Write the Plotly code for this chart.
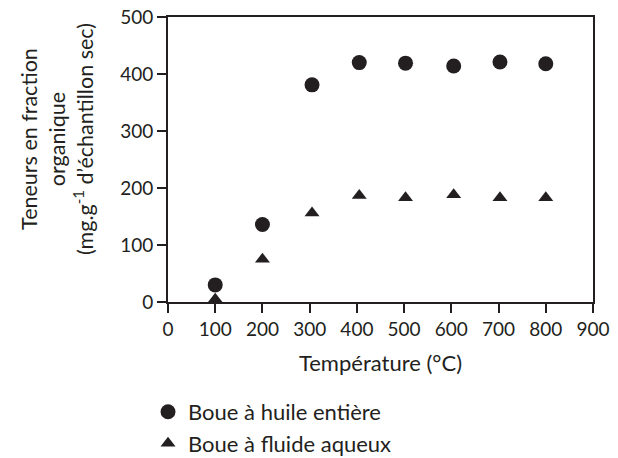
import plotly.graph_objects as go

temperature = [100, 200, 305, 405, 503, 605, 703, 800]
boue_huile = [30, 136, 381, 420, 419, 414, 421, 418]
boue_fluide = [5, 75, 156, 187, 183, 188, 183, 183]
x_ticks = [0, 100, 200, 300, 400, 500, 600, 700, 800, 900]
y_ticks = [0, 100, 200, 300, 400, 500]

INK = "#231f20"
FONT = "Lato"

fig = go.Figure()
fig.add_trace(go.Scatter(
    x=temperature, y=boue_huile, mode="markers", name="Boue à huile entière",
    marker=dict(symbol="circle", size=15, color=INK),
))
fig.add_trace(go.Scatter(
    x=temperature, y=boue_fluide, mode="markers", name="Boue à fluide aqueux",
    marker=dict(symbol="triangle-up", size=13, color=INK),
))

axis_common = dict(
    showline=True, linecolor=INK, linewidth=2, mirror=True,
    ticks="outside", ticklen=9, tickwidth=1.5, tickcolor=INK,
    showgrid=False, zeroline=False, automargin=False,
    tickfont=dict(family=FONT, size=19, color=INK),
)

fig.update_layout(
    width=618, height=458,
    margin=dict(l=168, r=25, t=17, b=156, autoexpand=False),
    paper_bgcolor="white", plot_bgcolor="white",
    font=dict(family=FONT, color=INK, size=19),
    xaxis=dict(range=[0, 900], tickvals=x_ticks, **axis_common,
               title=dict(text="Température (°C)", standoff=17,
                          font=dict(family=FONT, size=22, color=INK))),
    yaxis=dict(range=[0, 500], tickvals=y_ticks, **axis_common),
    legend=dict(x=-0.047, y=-0.312, xanchor="left", yanchor="top",
                font=dict(family=FONT, size=22, color=INK),
                bgcolor="rgba(0,0,0,0)"),
    showlegend=True,
    annotations=[dict(
        text="Teneurs en fraction<br>organique<br>(mg.g<sup>-1</sup> d’échantillon sec)",
        xref="paper", yref="paper", x=-0.261, y=0.572,
        xanchor="center", yanchor="middle", textangle=-90, showarrow=False,
        font=dict(family=FONT, size=21.5, color=INK),
    )],
)

fig.write_html("out.html", config={"displayModeBar": False},
               post_script="document.body.style.margin='0';")
